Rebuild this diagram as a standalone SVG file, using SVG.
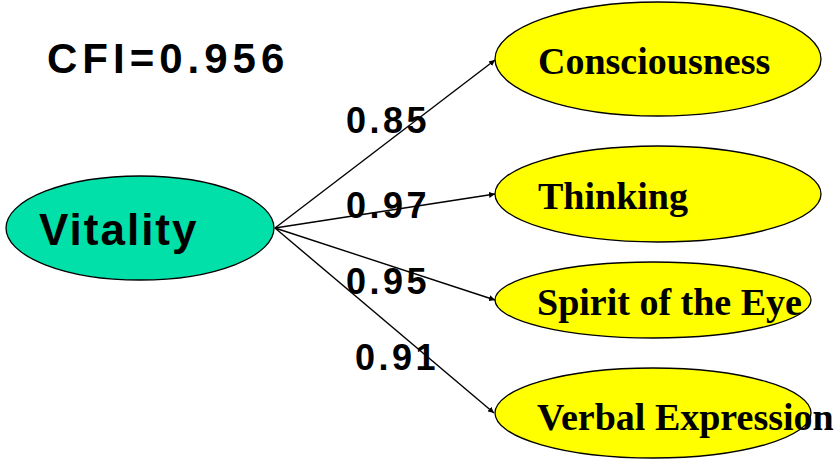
<svg xmlns="http://www.w3.org/2000/svg" width="838" height="460" viewBox="0 0 838 460">
<defs>
<marker id="arr" viewBox="0 0 10 10" refX="10" refY="5" markerWidth="6" markerHeight="6" markerUnits="userSpaceOnUse" orient="auto">
<path d="M0,0 L10,5 L0,10 z" fill="#000"/>
</marker>
<style>
.lat{fill:#00E0A8;stroke:#000;stroke-width:1.3}
.obs{fill:#FFFF00;stroke:#000;stroke-width:1.3}
.ltxt{font-family:"Liberation Sans",Arial,sans-serif;font-weight:bold;fill:#000}
.otxt{font-family:"Liberation Serif","Times New Roman",serif;font-weight:bold;font-size:38px;fill:#000}
.num{font-family:"Liberation Sans",Arial,sans-serif;font-weight:bold;font-size:36px;letter-spacing:3.5px;fill:#000}
.conn{stroke:#000;stroke-width:1.4;fill:none;marker-end:url(#arr)}
</style>
</defs>
<rect width="838" height="460" fill="#fff"/>
<text class="ltxt" x="47" y="73" font-size="42" letter-spacing="5">CFI=0.956</text>
<g id="vitality">
<ellipse class="lat" cx="140" cy="228" rx="134" ry="52"/>
<text class="ltxt" x="39" y="245" font-size="44" letter-spacing="2">Vitality</text>
</g>
<g id="consciousness">
<ellipse class="obs" cx="658" cy="59" rx="163" ry="57"/>
<text class="otxt" x="538" y="74">Consciousness</text>
</g>
<g id="thinking">
<ellipse class="obs" cx="658" cy="194" rx="163" ry="48"/>
<text class="otxt" x="538" y="209">Thinking</text>
</g>
<g id="spirit">
<ellipse class="obs" cx="653" cy="300" rx="158" ry="38"/>
<text class="otxt" x="537" y="315">Spirit of the Eye</text>
</g>
<g id="verbal">
<ellipse class="obs" cx="653" cy="413" rx="158" ry="45"/>
<text class="otxt" x="537" y="430">Verbal Expression</text>
</g>
<g id="connectors">
<line class="conn" x1="275" y1="228" x2="495" y2="60"/>
<line class="conn" x1="275" y1="228" x2="495" y2="194"/>
<line class="conn" x1="275" y1="228" x2="495" y2="300"/>
<line class="conn" x1="275" y1="228" x2="494" y2="413"/>
</g>
<g id="labels">
<text class="num" x="346" y="133">0.85</text>
<text class="num" x="346" y="218">0.97</text>
<text class="num" x="346" y="294">0.95</text>
<text class="num" x="355" y="370">0.91</text>
</g>
</svg>
